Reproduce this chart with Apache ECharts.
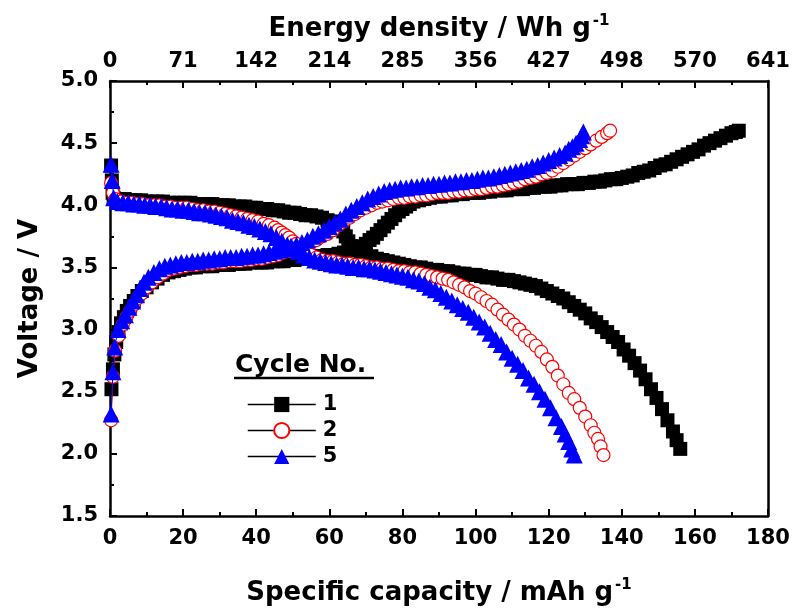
<!DOCTYPE html>
<html>
<head>
<meta charset="utf-8">
<script src="https://cdn.jsdelivr.net/npm/echarts@6/dist/echarts.min.js"></script>
<style>
  html, body { margin: 0; padding: 0; background: #fff; }
  #chart { width: 794px; height: 611px; }
</style>
</head>
<body>
<div id="chart"></div>
<script>
// Top-axis tick labels: energy density (Wh g-1) at each 20 mAh g-1 step of capacity
const energyTickLabels = ['0', '71', '142', '214', '285', '356', '427', '498', '570', '641'];

const cycleNames = ['1', '2', '5'];

// [specific capacity (mAh g-1), voltage (V)]
const cycle1Charge = [
  [0.4,2.52],[0.8,2.68],[1.2,2.8],[1.7,2.9],[2.3,2.98],[3,3.05],[3.8,3.1],[4.6,3.15],[5.5,3.19],[6.5,3.23],
  [7.5,3.27],[8.7,3.31],[10,3.34],[11.5,3.38],[13,3.41],[14.5,3.44],[16,3.46],[17.5,3.47],[19,3.48],[20.5,3.49],
  [22,3.5],[23.5,3.5],[25,3.51],[26.5,3.51],[28,3.51],[29.5,3.52],[31,3.52],[32.5,3.52],[34,3.53],[35.5,3.53],
  [37,3.53],[38.5,3.54],[40,3.54],[41.5,3.54],[43,3.54],[44.5,3.55],[46,3.55],[47.5,3.55],[49,3.56],[50.5,3.56],
  [52,3.57],[53.5,3.57],[55,3.58],[56.5,3.59],[58,3.59],[59.5,3.6],[61,3.6],[62.5,3.61],[64,3.62],[65.5,3.64],
  [67,3.65],[68.5,3.67],[70,3.69],[71,3.72],[72,3.74],[73,3.77],[74,3.8],[75,3.83],[76,3.86],[77,3.89],
  [78,3.92],[79,3.95],[80,3.97],[81,3.99],[82,4.01],[83,4.03],[84.5,4.04],[86,4.05],[87.5,4.06],[89,4.07],
  [90.5,4.07],[92,4.08],[93.5,4.08],[95,4.09],[96.5,4.09],[98,4.1],[99.5,4.1],[101,4.1],[102.5,4.11],[104,4.11],
  [105.5,4.12],[107,4.12],[108.5,4.12],[110,4.13],[111.5,4.13],[113,4.13],[114.5,4.14],[116,4.14],[117.5,4.15],[119,4.15],
  [120.5,4.15],[122,4.16],[123.5,4.16],[125,4.17],[126.5,4.17],[128,4.17],[129.5,4.18],[131,4.18],[132.5,4.19],[134,4.19],
  [135.5,4.2],[137,4.21],[138.5,4.21],[140,4.22],[141.5,4.23],[143,4.24],[144.5,4.26],[146,4.27],[147.5,4.28],[149,4.3],
  [150.5,4.32],[152,4.33],[153.5,4.35],[155,4.37],[156.5,4.39],[158,4.41],[159.5,4.43],[161,4.45],[162.5,4.48],[164,4.5],
  [165.5,4.52],[167,4.54],[168.5,4.56],[170,4.58],[171.2,4.59],[172,4.6]
];
const cycle1Discharge = [
  [0.3,4.32],[0.5,4.2],[0.7,4.1],[1,4.06],[2.5,4.05],[4,4.05],[5.5,4.04],[7,4.04],[8.5,4.04],[10,4.03],
  [11.5,4.03],[13,4.03],[14.5,4.03],[16,4.02],[17.5,4.02],[19,4.02],[20.5,4.02],[22,4.02],[23.5,4.01],[25,4.01],
  [26.5,4.01],[28,4.01],[29.5,4.0],[31,4.0],[32.5,4.0],[34,3.99],[35.5,3.99],[37,3.99],[38.5,3.98],[40,3.98],
  [41.5,3.97],[43,3.97],[44.5,3.96],[46,3.96],[47.5,3.95],[49,3.94],[50.5,3.94],[52,3.93],[53.5,3.92],[55,3.92],
  [56.5,3.91],[58,3.9],[59.5,3.88],[61,3.87],[62,3.85],[63,3.82],[63.8,3.79],[64.5,3.75],[65.2,3.71],[66,3.67],
  [67,3.64],[68.5,3.61],[70,3.6],[71.5,3.59],[73,3.57],[74.5,3.56],[76,3.55],[77.5,3.54],[79,3.53],[80.5,3.52],
  [82,3.51],[83.5,3.5],[85,3.5],[86.5,3.49],[88,3.48],[89.5,3.48],[91,3.47],[92.5,3.47],[94,3.46],[95.5,3.45],
  [97,3.45],[98.5,3.44],[100,3.44],[101.5,3.43],[103,3.42],[104.5,3.42],[106,3.41],[107.5,3.4],[109,3.4],[110.5,3.39],
  [112,3.38],[113.5,3.37],[115,3.36],[116.5,3.35],[118,3.33],[119.5,3.31],[121,3.29],[122.5,3.27],[124,3.25],[125.5,3.22],
  [127,3.19],[128.5,3.16],[130,3.13],[131.5,3.09],[133,3.06],[134.5,3.02],[136,2.98],[137.5,2.94],[139,2.9],[140.5,2.84],
  [142,2.79],[143.5,2.73],[145,2.67],[146.5,2.6],[148,2.52],[149.5,2.45],[151,2.36],[152.5,2.27],[154,2.18],[155,2.11],
  [156,2.04]
];
const cycle2Charge = [
  [0.3,2.27],[0.8,2.62],[1.4,2.83],[2.4,2.95],[3.5,3.04],[4.5,3.1],[5.5,3.15],[6.5,3.2],[7.5,3.25],[8.7,3.29],
  [10,3.34],[11.5,3.38],[13,3.42],[14.5,3.45],[16,3.48],[17.5,3.49],[19,3.5],[20.5,3.51],[22,3.52],[23.5,3.52],
  [25,3.53],[26.5,3.53],[28,3.53],[29.5,3.54],[31,3.54],[32.5,3.55],[34,3.55],[35.5,3.55],[37,3.56],[38.5,3.56],
  [40,3.57],[41.5,3.57],[43,3.58],[44.5,3.59],[46,3.6],[47.5,3.62],[49,3.63],[50.5,3.65],[52,3.66],[53.5,3.68],
  [55,3.7],[56.5,3.72],[58,3.75],[59.5,3.77],[61,3.8],[62.5,3.84],[64,3.87],[65.5,3.9],[67,3.93],[68.5,3.96],
  [70,3.98],[71.5,4.0],[73,4.02],[74.5,4.03],[76,4.04],[77.5,4.05],[79,4.06],[80.5,4.06],[82,4.07],[83.5,4.07],
  [85,4.08],[86.5,4.08],[88,4.09],[89.5,4.1],[91,4.1],[92.5,4.1],[94,4.11],[95.5,4.11],[97,4.12],[98.5,4.12],
  [100,4.13],[101.5,4.13],[103,4.14],[104.5,4.15],[106,4.15],[107.5,4.16],[109,4.17],[110.5,4.18],[112,4.19],[113.5,4.21],
  [115,4.22],[116.5,4.23],[118,4.25],[119.5,4.26],[121,4.28],[122.5,4.31],[124,4.34],[125.5,4.37],[127,4.4],[128.5,4.43],
  [130,4.46],[131.5,4.49],[133,4.52],[134.5,4.55],[136,4.58],[136.8,4.6]
];
const cycle2Discharge = [
  [0.3,4.18],[0.8,4.1],[1.5,4.05],[3,4.03],[4.5,4.02],[6,4.02],[7.5,4.01],[9,4.01],[10.5,4.0],[12,4.0],
  [13.5,4.0],[15,3.99],[16.5,3.99],[18,3.98],[19.5,3.98],[21,3.98],[22.5,3.97],[24,3.96],[25.5,3.96],[27,3.95],
  [28.5,3.95],[30,3.94],[31.5,3.93],[33,3.92],[34.5,3.91],[36,3.9],[37.5,3.89],[39,3.88],[40.5,3.87],[42,3.85],
  [43.5,3.84],[45,3.82],[46,3.8],[47,3.78],[48,3.76],[49,3.74],[50,3.71],[51,3.69],[52,3.66],[53,3.64],
  [54,3.62],[55,3.6],[56.5,3.58],[58,3.56],[59.5,3.55],[61,3.55],[62.5,3.54],[64,3.53],[65.5,3.53],[67,3.52],
  [68.5,3.52],[70,3.51],[71.5,3.5],[73,3.5],[74.5,3.49],[76,3.49],[77.5,3.48],[79,3.47],[80.5,3.47],[82,3.46],
  [83.5,3.46],[85,3.45],[86.5,3.44],[88,3.43],[89.5,3.42],[91,3.41],[92.5,3.4],[94,3.38],[95.5,3.36],[97,3.34],
  [98.5,3.31],[100,3.29],[101.5,3.26],[103,3.23],[104.5,3.2],[106,3.16],[107.5,3.12],[109,3.08],[110.5,3.04],[112,3.0],
  [113.5,2.95],[115,2.91],[116.5,2.87],[118,2.82],[119.5,2.76],[121,2.7],[122.5,2.63],[124,2.56],[125.5,2.49],[127,2.44],
  [128.5,2.37],[130,2.3],[131.5,2.23],[132.5,2.17],[133.5,2.12],[134.2,2.06],[135,1.99]
];
const cycle5Charge = [
  [0.3,2.32],[0.8,2.66],[1.3,2.86],[2.2,3.0],[3.2,3.07],[4.2,3.12],[5.2,3.18],[6.2,3.23],[7.2,3.28],[8.2,3.33],
  [9.3,3.38],[10.5,3.42],[12,3.46],[13.5,3.49],[15,3.51],[16.5,3.52],[18,3.53],[19.5,3.54],[21,3.54],[22.5,3.55],
  [24,3.55],[25.5,3.56],[27,3.56],[28.5,3.57],[30,3.57],[31.5,3.58],[33,3.58],[34.5,3.58],[36,3.59],[37.5,3.59],
  [39,3.6],[40.5,3.6],[42,3.61],[43.5,3.62],[45,3.63],[46.5,3.64],[48,3.65],[49.5,3.67],[51,3.68],[52.5,3.7],
  [54,3.72],[55.5,3.75],[57,3.77],[58.5,3.8],[60,3.83],[61.5,3.86],[63,3.89],[64.5,3.93],[66,3.96],[67.5,3.99],
  [69,4.02],[70.5,4.05],[72,4.07],[73.5,4.09],[75,4.11],[76.5,4.12],[78,4.13],[79.5,4.14],[81,4.14],[82.5,4.15],
  [84,4.15],[85.5,4.16],[87,4.16],[88.5,4.17],[90,4.17],[91.5,4.18],[93,4.18],[94.5,4.19],[96,4.19],[97.5,4.2],
  [99,4.2],[100.5,4.21],[102,4.22],[103.5,4.22],[105,4.23],[106.5,4.24],[108,4.25],[109.5,4.26],[111,4.27],[112.5,4.28],
  [114,4.29],[115.5,4.31],[117,4.32],[118.5,4.34],[120,4.36],[121.5,4.38],[123,4.4],[124.5,4.42],[125.5,4.45],[126.5,4.47],
  [127.5,4.5],[128.5,4.53],[129,4.56],[129.5,4.59]
];
const cycle5Discharge = [
  [0.3,4.33],[0.6,4.2],[1,4.06],[2,4.03],[3.5,4.02],[5,4.02],[6.5,4.01],[8,4.01],[9.5,4.0],[11,4.0],
  [12.5,3.99],[14,3.99],[15.5,3.98],[17,3.97],[18.5,3.97],[20,3.96],[21.5,3.96],[23,3.95],[24.5,3.94],[26,3.94],
  [27.5,3.93],[29,3.92],[30.5,3.91],[32,3.9],[33.5,3.88],[35,3.87],[36.5,3.86],[38,3.84],[39.5,3.83],[41,3.81],
  [42.5,3.79],[44,3.77],[45.5,3.74],[47,3.71],[48.5,3.68],[50,3.65],[51.5,3.63],[53,3.6],[54.5,3.58],[56,3.56],
  [57.5,3.55],[59,3.54],[60.5,3.53],[62,3.52],[63.5,3.52],[65,3.51],[66.5,3.5],[68,3.5],[69.5,3.49],[71,3.49],
  [72.5,3.48],[74,3.47],[75.5,3.46],[77,3.45],[78.5,3.44],[80,3.43],[81.5,3.42],[83,3.4],[84.5,3.39],[86,3.37],
  [87.5,3.34],[89,3.32],[90.5,3.29],[92,3.26],[93.5,3.23],[95,3.2],[96.5,3.17],[98,3.14],[99.5,3.1],[101,3.06],
  [102.5,3.02],[104,2.97],[105.5,2.92],[107,2.88],[108.5,2.82],[110,2.77],[111.5,2.72],[113,2.67],[114.5,2.61],[116,2.56],
  [117.5,2.5],[119,2.44],[120.5,2.37],[122,2.29],[123.5,2.22],[124.5,2.16],[125.5,2.1],[126.3,2.04],[127,1.99]
];

const FONT = 'DejaVu Sans';

// Marker appearance for each cycle
const cycleStyles = {
  '1': { symbol: 'rect', size: 14, fill: '#000000', stroke: '#000000', line: '#000000', z: 2 },
  '2': { symbol: 'circle', size: 13, fill: '#ffffff', stroke: '#ff0000', line: '#ff0000', z: 3 },
  '5': { symbol: 'triangle', size: 17, fill: '#0000ff', stroke: '#0000ff', line: '#0000ff', z: 4 }
};

function curve(name, data) {
  const s = cycleStyles[name];
  return {
    name: name,
    type: 'line',
    data: data,
    z: s.z,
    symbol: s.symbol,
    symbolSize: s.size,
    showAllSymbol: true,
    itemStyle: { color: s.fill, borderColor: s.stroke, borderWidth: s.symbol === 'circle' ? 1.2 : 0 },
    lineStyle: { color: s.line, width: 1 },
    emphasis: { disabled: true }
  };
}

const axisLine = { show: true, onZero: false, lineStyle: { color: '#000', width: 2.5 } };
const tickStyle = { color: '#000', width: 2 };
const labelStyle = { color: '#000', fontFamily: FONT, fontWeight: 'bold', fontSize: 21 };
const nameRich = {
  t: { fontFamily: FONT, fontWeight: 'bold', fontSize: 26, color: '#000', lineHeight: 30 },
  s: { fontFamily: FONT, fontWeight: 'bold', fontSize: 15, color: '#000', verticalAlign: 'top', lineHeight: 30, padding: [0, 0, 12, 2] }
};

const chart = echarts.init(document.getElementById('chart'), null, { renderer: 'canvas' });
chart.setOption({
  animation: false,
  backgroundColor: '#ffffff',
  grid: { left: 110, right: 26, top: 81, bottom: 90, containLabel: false },
  xAxis: [
    {
      type: 'value', position: 'bottom', min: 0, max: 180, interval: 20,
      name: '{t|Specific capacity / mAh g}{s|-1}', nameLocation: 'middle', nameGap: 62,
      nameTextStyle: { rich: nameRich },
      axisLine: axisLine,
      axisTick: { show: true, inside: true, length: 7, lineStyle: tickStyle },
      minorTick: { show: true, splitNumber: 2, length: 4, lineStyle: tickStyle },
      axisLabel: Object.assign({ margin: 12 }, labelStyle),
      splitLine: { show: false }
    },
    {
      type: 'value', position: 'top', min: 0, max: 180, interval: 20,
      name: '{t|Energy density / Wh g}{s|-1}', nameLocation: 'middle', nameGap: 37,
      nameTextStyle: { rich: nameRich },
      axisLine: axisLine,
      axisTick: { show: true, inside: true, length: 7, lineStyle: tickStyle },
      minorTick: { show: true, splitNumber: 2, length: 4, lineStyle: tickStyle },
      axisLabel: Object.assign({ margin: 9, formatter: v => energyTickLabels[Math.round(v / 20)] }, labelStyle),
      splitLine: { show: false }
    }
  ],
  yAxis: [
    {
      type: 'value', position: 'left', min: 1.5, max: 5.0, interval: 0.5,
      name: '{t|Voltage / V}', nameLocation: 'middle', nameGap: 65, nameRotate: 90,
      nameTextStyle: { rich: nameRich },
      axisLine: axisLine,
      axisTick: { show: true, inside: true, length: 7, lineStyle: tickStyle },
      minorTick: { show: true, splitNumber: 2, length: 4, lineStyle: tickStyle },
      axisLabel: Object.assign({ margin: 12, padding: [6, 0, 0, 0], formatter: v => v.toFixed(1) }, labelStyle),
      splitLine: { show: false }
    },
    {
      type: 'value', position: 'right', min: 1.5, max: 5.0, interval: 0.5,
      axisLine: axisLine,
      axisTick: { show: false }, axisLabel: { show: false }, splitLine: { show: false }
    }
  ],
  legend: {
    data: cycleNames,
    orient: 'vertical',
    left: 242, top: 389,
    itemWidth: 68, itemHeight: 19, itemGap: 5,
    lineStyle: { color: '#000', width: 1.5 },
    textStyle: { color: '#000', fontFamily: FONT, fontWeight: 'bold', fontSize: 21, padding: [0, 0, 0, 2] },
    selectedMode: false
  },
  graphic: [
    { type: 'text', left: 235, top: 353, style: { text: 'Cycle No.', fontFamily: FONT, fontWeight: 'bold', fontSize: 25, fill: '#000' } },
    { type: 'line', shape: { x1: 234, y1: 378, x2: 374, y2: 378 }, style: { stroke: '#000', lineWidth: 2.5 } }
  ],
  series: [
    curve('1', cycle1Charge), curve('1', cycle1Discharge),
    curve('2', cycle2Charge), curve('2', cycle2Discharge),
    curve('5', cycle5Charge), curve('5', cycle5Discharge)
  ]
});
</script>
</body>
</html>
